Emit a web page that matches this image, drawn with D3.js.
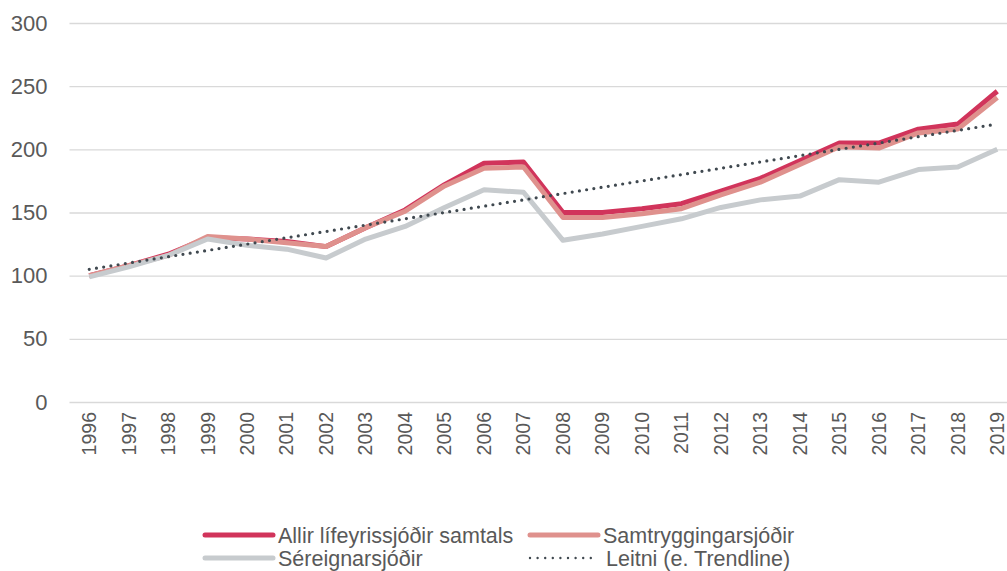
<!DOCTYPE html>
<html>
<head>
<meta charset="utf-8">
<script src="https://cdn.jsdelivr.net/npm/d3@7"></script>
<style>
  body { margin: 0; background: #fff; }
  svg { display: block; font-family: "Liberation Sans", Arial, sans-serif; }
  .tick text { fill: #595959; }
</style>
</head>
<body>
<div id="chart"></div>
<script>
// ár á x-ás
var years = ["1996","1997","1998","1999","2000","2001","2002","2003","2004","2005","2006","2007",
             "2008","2009","2010","2011","2012","2013","2014","2015","2016","2017","2018","2019"];
// vísitölur, lesnar af myndinni
var allir = [100,108,117,130,129,127,123,138,152,172,189,190,150,150,153,157,167,177,191,205,205,216,220,246];
var samtrygging = [100,108,116,131,129,126,123,138,151,171,185,186,146,146,149,153,164,174,188,202,201,213,216,241];
var sereign = [99,107,116,129,124,121,114,129,139,154,168,166,128,133,139,145,154,160,163,176,174,184,186,200];
// leitnilína (endapunktar)
var trendYears = ["1996","2019"];
var trendValues = [105,220];
var yTicks = [0,50,100,150,200,250,300];

var series = [
  { name: "Allir lífeyrissjóðir samtals", values: allir, color: "#d1345b" },
  { name: "Samtryggingarsjóðir", values: samtrygging, color: "#df918d" },
  { name: "Séreignarsjóðir", values: sereign, color: "#c7cbce" }
];

var W = 1007, H = 571;
var svg = d3.select("#chart").append("svg")
  .attr("width", W).attr("height", H);

var x = d3.scaleBand().domain(years).range([69.5, 69.5 + 24 * 39.48]).padding(0);
var y = d3.scaleLinear().domain([0, 300]).range([402, 23]);
var cx = function(yr) { return x(yr) + x.bandwidth() / 2; };

// gridlínur og y-ás
var yAxis = svg.append("g")
  .attr("transform", "translate(" + x.range()[0] + ",0)")
  .call(d3.axisLeft(y).tickValues(yTicks).tickSize(-(x.range()[1] - x.range()[0])).tickPadding(22));
yAxis.select(".domain").remove();
yAxis.selectAll(".tick line").attr("stroke", "#d9d9d9").attr("stroke-width", 1.3);
yAxis.selectAll(".tick text").style("font-size", "22px");

// x-ás, ár snúin lóðrétt
var xAxis = svg.append("g")
  .attr("transform", "translate(0,402)")
  .call(d3.axisBottom(x).tickSize(0));
xAxis.select(".domain").remove();
xAxis.selectAll(".tick text")
  .style("font-size", "19.5px")
  .attr("text-anchor", "end")
  .attr("dy", "0.35em")
  .attr("transform", "translate(0,10) rotate(-90)")
  .attr("x", 0).attr("y", 0);

var line = d3.line()
  .x(function(d, i) { return cx(years[i]); })
  .y(function(d) { return y(d); });

svg.selectAll(".serie")
  .data(series)
  .enter().append("path")
  .attr("class", "serie")
  .attr("d", function(d) { return line(d.values); })
  .attr("fill", "none")
  .attr("stroke", function(d) { return d.color; })
  .attr("stroke-width", 5)
  .attr("stroke-linejoin", "round");

var trendLine = d3.line()
  .x(function(d, i) { return cx(trendYears[i]); })
  .y(function(d) { return y(d); });
svg.append("path")
  .attr("d", trendLine(trendValues))
  .attr("fill", "none")
  .attr("stroke", "#404950")
  .attr("stroke-width", 3.2)
  .attr("stroke-linecap", "round")
  .attr("stroke-dasharray", "0,7.3");

// skýringar
var legendItems = [
  { name: series[0].name, color: series[0].color, dots: false, x: 203, y: 535 },
  { name: series[1].name, color: series[1].color, dots: false, x: 528, y: 535 },
  { name: series[2].name, color: series[2].color, dots: false, x: 203, y: 558 },
  { name: "Leitni (e. Trendline)", color: "#404950", dots: true, x: 528, y: 558 }
];
var lg = svg.selectAll(".lg").data(legendItems).enter().append("g")
  .attr("transform", function(d) { return "translate(" + d.x + "," + d.y + ")"; });
lg.append("line")
  .attr("x1", 2).attr("x2", 70)
  .attr("stroke", function(d) { return d.color; })
  .attr("stroke-width", function(d) { return d.dots ? 2.4 : 5; })
  .attr("stroke-linecap", "round")
  .attr("stroke-dasharray", function(d) { return d.dots ? "0,7.6" : null; });
lg.append("text")
  .attr("x", function(d) { return d.dots ? 78 : 75; })
  .attr("dy", "0.35em")
  .style("font-size", "21.5px")
  .attr("fill", "#595959")
  .text(function(d) { return d.name; });
</script>
</body>
</html>
